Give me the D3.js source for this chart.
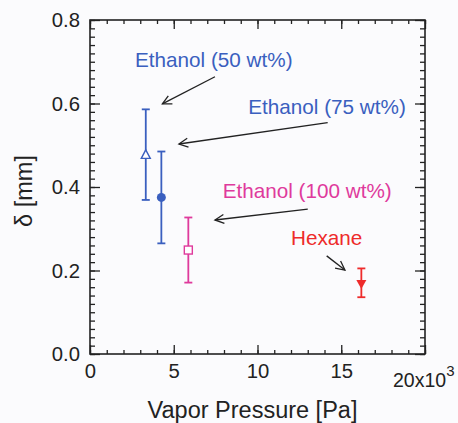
<!DOCTYPE html>
<html>
<head>
<meta charset="utf-8">
<script src="https://cdn.jsdelivr.net/npm/d3@7"></script>
<style>
  body { margin: 0; background: #fbfbfd; }
  svg text { font-family: "Liberation Sans", Arial, sans-serif; }
</style>
</head>
<body>
<svg id="chart"></svg>
<script>
// data (x in 10^3 Pa, delta in mm)
const names = ["Ethanol (50 wt%)", "Ethanol (75 wt%)", "Ethanol (100 wt%)", "Hexane"];
const xVals = [3.33, 4.26, 5.87, 16.2];
const yVals = [0.477, 0.375, 0.249, 0.169];
const yHigh = [0.586, 0.485, 0.327, 0.205];
const yLow = [0.369, 0.265, 0.171, 0.136];
const colors = ["#3a5fbf", "#3a5fbf", "#df3a9c", "#ee2b2b"];
const symbols = ["triangleOpen", "circle", "squareOpen", "triangleDown"];

// label anchors and arrows, in data units
const labelPos = [[2.69, 0.688], [9.45, 0.576], [7.92, 0.373], [12.0, 0.261]];
const arrowFrom = [[7.46, 0.664], [14.19, 0.554], [13.0, 0.347], [14.13, 0.235]];
const arrowTo = [[4.32, 0.599], [5.31, 0.503], [7.46, 0.321], [15.22, 0.201]];

const xTicks = [0, 5, 10, 15, 20];
const yTicks = [0.0, 0.2, 0.4, 0.6, 0.8];

const W = 458, H = 423;
const margin = { top: 20, right: 33, bottom: 69, left: 90 };
const width = W - margin.left - margin.right;
const height = H - margin.top - margin.bottom;

const svg = d3.select("#chart")
  .attr("width", W)
  .attr("height", H);

const g = svg.append("g")
  .attr("transform", `translate(${margin.left},${margin.top})`);

const x = d3.scaleLinear().domain([0, 20]).range([0, width]);
const y = d3.scaleLinear().domain([0, 0.8]).range([height, 0]);

const tickColor = "#222";

// minor ticks on all four sides
const xMinor = d3.range(0, 20.01, 1);
const yMinor = d3.range(0, 0.801, 0.02);

function styleAxis(sel) {
  sel.select(".domain").remove();
  sel.selectAll(".tick line").attr("stroke", tickColor).attr("stroke-width", 1.3);
  sel.selectAll("text").attr("fill", "#222").attr("font-size", 20.3);
}

g.append("g").attr("transform", `translate(0,${height})`)
  .call(d3.axisBottom(x).tickValues(xMinor).tickSize(-4).tickFormat(""))
  .call(styleAxis);
g.append("g")
  .call(d3.axisTop(x).tickValues(xMinor).tickSize(-4).tickFormat(""))
  .call(styleAxis);
g.append("g")
  .call(d3.axisLeft(y).tickValues(yMinor).tickSize(-5).tickFormat(""))
  .call(styleAxis);
g.append("g").attr("transform", `translate(${width},0)`)
  .call(d3.axisRight(y).tickValues(yMinor).tickSize(-5).tickFormat(""))
  .call(styleAxis);

// major ticks
g.append("g").attr("transform", `translate(0,${height})`)
  .call(d3.axisBottom(x).tickValues(xTicks).tickSize(-9).tickPadding(10)
    .tickFormat(d => d === 20 ? "" : d))
  .call(styleAxis);
g.append("g")
  .call(d3.axisTop(x).tickValues(xTicks).tickSize(-9).tickFormat(""))
  .call(styleAxis);
g.append("g")
  .call(d3.axisLeft(y).tickValues(yTicks).tickSize(-10).tickPadding(10)
    .tickFormat(d3.format(".1f")))
  .call(styleAxis);
g.append("g").attr("transform", `translate(${width},0)`)
  .call(d3.axisRight(y).tickValues(yTicks).tickSize(-10).tickFormat(""))
  .call(styleAxis);

// last x label with the exponent
const lastLab = g.append("text")
  .attr("x", x(20) - 32)
  .attr("y", height + 33)
  .attr("font-size", 19.5)
  .attr("fill", "#222");
lastLab.append("tspan").text("20x10");
lastLab.append("tspan").attr("font-size", 15).attr("dy", -11).text("3");

// frame
g.append("rect")
  .attr("width", width)
  .attr("height", height)
  .attr("fill", "none")
  .attr("stroke", tickColor)
  .attr("stroke-width", 1.6);

// axis titles
g.append("text")
  .attr("x", width / 2 - 5)
  .attr("y", height + 64)
  .attr("text-anchor", "middle")
  .attr("font-size", 23.5)
  .attr("fill", "#222")
  .text("Vapor Pressure [Pa]");

g.append("text")
  .attr("transform", `translate(${-58},${height / 2 + 4}) rotate(-90)`)
  .attr("text-anchor", "middle")
  .attr("font-size", 23.5)
  .attr("fill", "#222")
  .text("δ [mm]");

// arrows
svg.append("defs").append("marker")
  .attr("id", "head")
  .attr("viewBox", "-10 -6 12 12")
  .attr("refX", 0).attr("refY", 0)
  .attr("markerWidth", 12).attr("markerHeight", 12)
  .attr("markerUnits", "userSpaceOnUse")
  .attr("orient", "auto")
  .append("path")
  .attr("d", "M-9,-4.5 L0,0 L-9,4.5")
  .attr("fill", "none")
  .attr("stroke", "#222")
  .attr("stroke-width", 1.3);

arrowFrom.forEach((a, i) => {
  g.append("line")
    .attr("x1", x(a[0])).attr("y1", y(a[1]))
    .attr("x2", x(arrowTo[i][0])).attr("y2", y(arrowTo[i][1]))
    .attr("stroke", "#222")
    .attr("stroke-width", 1.3)
    .attr("marker-end", "url(#head)");
});

// labels
names.forEach((n, i) => {
  g.append("text")
    .attr("x", x(labelPos[i][0]))
    .attr("y", y(labelPos[i][1]))
    .attr("font-size", 20.7)
    .attr("fill", colors[i])
    .text(n);
});

// error bars
const cap = 4;
xVals.forEach((xv, i) => {
  const eb = g.append("g").attr("stroke", colors[i]).attr("stroke-width", 1.8);
  eb.append("line")
    .attr("x1", x(xv)).attr("x2", x(xv))
    .attr("y1", y(yHigh[i])).attr("y2", y(yLow[i]));
  [yHigh[i], yLow[i]].forEach(v => {
    eb.append("line")
      .attr("x1", x(xv) - cap).attr("x2", x(xv) + cap)
      .attr("y1", y(v)).attr("y2", y(v));
  });
});

// markers
xVals.forEach((xv, i) => {
  const cx = x(xv), cy = y(yVals[i]), c = colors[i];
  const s = symbols[i];
  if (s === "circle") {
    g.append("circle").attr("cx", cx).attr("cy", cy).attr("r", 4.5).attr("fill", c);
  } else if (s === "squareOpen") {
    g.append("rect").attr("x", cx - 4).attr("y", cy - 4).attr("width", 8).attr("height", 8)
      .attr("fill", "#fff").attr("stroke", c).attr("stroke-width", 1.4);
  } else if (s === "triangleOpen") {
    g.append("path")
      .attr("d", `M${cx},${cy - 5} L${cx + 4.5},${cy + 3.5} L${cx - 4.5},${cy + 3.5}Z`)
      .attr("fill", "#fff").attr("stroke", c).attr("stroke-width", 1.4);
  } else {
    g.append("path")
      .attr("d", `M${cx},${cy + 5.5} L${cx + 5},${cy - 3.5} L${cx - 5},${cy - 3.5}Z`)
      .attr("fill", c);
  }
});
</script>
</body>
</html>
